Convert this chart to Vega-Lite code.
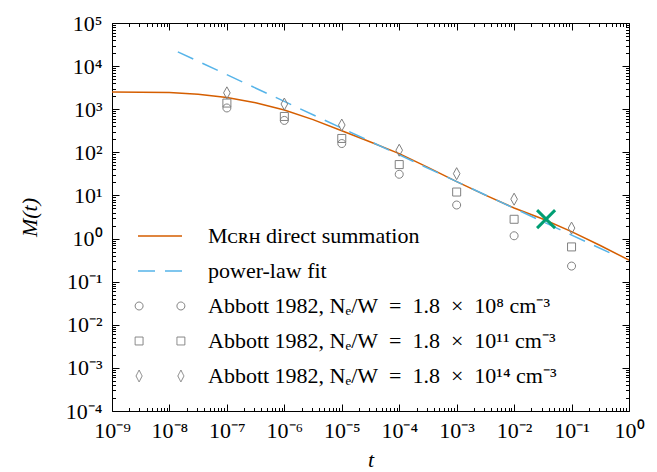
{
  "$schema": "https://vega.github.io/schema/vega-lite/v6.json",
  "width": 517,
  "height": 388,
  "autosize": {"type": "none"},
  "padding": {"left": 112, "top": 23, "right": 28, "bottom": 61},
  "background": "white",
  "config": {
    "font": "Liberation Serif",
    "view": {"stroke": "black", "strokeWidth": 1},
    "axis": {"labelFont": "Liberation Serif", "labelFontSize": 22, "labelColor": "black", "titleFont": "Liberation Serif", "titleFontSize": 22, "titleColor": "black", "titleFontWeight": "normal", "tickColor": "black", "tickWidth": 1, "grid": false, "domain": false},
    "legend": {"labelFont": "Liberation Serif", "labelFontSize": 22, "labelColor": "black", "labelLimit": 1000}
  },
  "datasets": {
    "curve": [
      {"t": 1e-9, "M": 2512, "series": "Mᴄʀʜ direct summation"},
      {"t": 3.16e-9, "M": 2483, "series": "Mᴄʀʜ direct summation"},
      {"t": 1e-8, "M": 2427, "series": "Mᴄʀʜ direct summation"},
      {"t": 3.16e-8, "M": 2239, "series": "Mᴄʀʜ direct summation"},
      {"t": 1e-7, "M": 1862, "series": "Mᴄʀʜ direct summation"},
      {"t": 3.16e-7, "M": 1413, "series": "Mᴄʀʜ direct summation"},
      {"t": 1e-6, "M": 955, "series": "Mᴄʀʜ direct summation"},
      {"t": 3.16e-6, "M": 575, "series": "Mᴄʀʜ direct summation"},
      {"t": 1e-5, "M": 316, "series": "Mᴄʀʜ direct summation"},
      {"t": 3.16e-5, "M": 174, "series": "Mᴄʀʜ direct summation"},
      {"t": 1e-4, "M": 93.3, "series": "Mᴄʀʜ direct summation"},
      {"t": 3.16e-4, "M": 44.7, "series": "Mᴄʀʜ direct summation"},
      {"t": 1e-3, "M": 20.9, "series": "Mᴄʀʜ direct summation"},
      {"t": 3.16e-3, "M": 10.2, "series": "Mᴄʀʜ direct summation"},
      {"t": 1e-2, "M": 5.1, "series": "Mᴄʀʜ direct summation"},
      {"t": 3.16e-2, "M": 2.85, "series": "Mᴄʀʜ direct summation"},
      {"t": 0.1, "M": 1.45, "series": "Mᴄʀʜ direct summation"},
      {"t": 0.316, "M": 0.69, "series": "Mᴄʀʜ direct summation"},
      {"t": 1, "M": 0.316, "series": "Mᴄʀʜ direct summation"}
    ],
    "fit": [
      {"t": 1.4e-8, "M": 21380, "series": "power-law fit"},
      {"t": 0.6, "M": 0.398, "series": "power-law fit"}
    ],
    "abbott": [
      {"t": 1e-7, "M": 1070, "series": "Abbott 1982, Nₑ/W = 1.8 × 10⁸ cm⁻³"},
      {"t": 1e-6, "M": 550, "series": "Abbott 1982, Nₑ/W = 1.8 × 10⁸ cm⁻³"},
      {"t": 1e-5, "M": 160, "series": "Abbott 1982, Nₑ/W = 1.8 × 10⁸ cm⁻³"},
      {"t": 1e-4, "M": 31, "series": "Abbott 1982, Nₑ/W = 1.8 × 10⁸ cm⁻³"},
      {"t": 1e-3, "M": 6.0, "series": "Abbott 1982, Nₑ/W = 1.8 × 10⁸ cm⁻³"},
      {"t": 1e-2, "M": 1.16, "series": "Abbott 1982, Nₑ/W = 1.8 × 10⁸ cm⁻³"},
      {"t": 0.1, "M": 0.23, "series": "Abbott 1982, Nₑ/W = 1.8 × 10⁸ cm⁻³"},
      {"t": 1e-7, "M": 1390, "series": "Abbott 1982, Nₑ/W = 1.8 × 10¹¹ cm⁻³"},
      {"t": 1e-6, "M": 680, "series": "Abbott 1982, Nₑ/W = 1.8 × 10¹¹ cm⁻³"},
      {"t": 1e-5, "M": 210, "series": "Abbott 1982, Nₑ/W = 1.8 × 10¹¹ cm⁻³"},
      {"t": 1e-4, "M": 52, "series": "Abbott 1982, Nₑ/W = 1.8 × 10¹¹ cm⁻³"},
      {"t": 1e-3, "M": 12, "series": "Abbott 1982, Nₑ/W = 1.8 × 10¹¹ cm⁻³"},
      {"t": 1e-2, "M": 2.8, "series": "Abbott 1982, Nₑ/W = 1.8 × 10¹¹ cm⁻³"},
      {"t": 0.1, "M": 0.64, "series": "Abbott 1982, Nₑ/W = 1.8 × 10¹¹ cm⁻³"},
      {"t": 1e-7, "M": 2400, "series": "Abbott 1982, Nₑ/W = 1.8 × 10¹⁴ cm⁻³"},
      {"t": 1e-6, "M": 1320, "series": "Abbott 1982, Nₑ/W = 1.8 × 10¹⁴ cm⁻³"},
      {"t": 1e-5, "M": 430, "series": "Abbott 1982, Nₑ/W = 1.8 × 10¹⁴ cm⁻³"},
      {"t": 1e-4, "M": 112, "series": "Abbott 1982, Nₑ/W = 1.8 × 10¹⁴ cm⁻³"},
      {"t": 1e-3, "M": 32, "series": "Abbott 1982, Nₑ/W = 1.8 × 10¹⁴ cm⁻³"},
      {"t": 1e-2, "M": 8.2, "series": "Abbott 1982, Nₑ/W = 1.8 × 10¹⁴ cm⁻³"},
      {"t": 0.1, "M": 1.75, "series": "Abbott 1982, Nₑ/W = 1.8 × 10¹⁴ cm⁻³"}
    ],
    "cross": [{"t": 0.036, "M": 2.83}]
  },
  "layer": [
    {
      "data": {"name": "curve"},
      "mark": {"type": "line", "strokeWidth": 1.5, "clip": true},
      "encoding": {
        "x": {"field": "t", "type": "quantitative",
          "scale": {"type": "log", "domain": [1e-9, 1], "nice": false},
          "axis": {"orient": "bottom", "title": "t", "titleFontStyle": "italic", "titlePadding": 5,
            "values": [1e-9,2e-9,3e-9,4e-9,5e-9,6e-9,7e-9,8e-9,9e-9,1e-8,2e-8,3e-8,4e-8,5e-8,6e-8,7e-8,8e-8,9e-8,1e-7,2e-7,3e-7,4e-7,5e-7,6e-7,7e-7,8e-7,9e-7,1e-6,2e-6,3e-6,4e-6,5e-6,6e-6,7e-6,8e-6,9e-6,1e-5,2e-5,3e-5,4e-5,5e-5,6e-5,7e-5,8e-5,9e-5,1e-4,2e-4,3e-4,4e-4,5e-4,6e-4,7e-4,8e-4,9e-4,1e-3,2e-3,3e-3,4e-3,5e-3,6e-3,7e-3,8e-3,9e-3,1e-2,2e-2,3e-2,4e-2,5e-2,6e-2,7e-2,8e-2,9e-2,0.1,0.2,0.3,0.4,0.5,0.6,0.7,0.8,0.9,1],
            "labelExpr": "abs(log(datum.value)/LN10 - round(log(datum.value)/LN10)) < 0.000001 ? '10' + ['⁻⁹','⁻⁸','⁻⁷','⁻⁶','⁻⁵','⁻⁴','⁻³','⁻²','⁻¹','⁰','¹','²','³','⁴','⁵'][round(log(datum.value)/LN10)+9] : ''",
            "labelOverlap": false, "labelFlush": false, "labelBound": false, "labelPadding": 16,
            "tickSize": {"condition": {"test": "abs(log(datum.value)/LN10 - round(log(datum.value)/LN10)) < 0.000001", "value": -7}, "value": -3.5}}},
        "y": {"field": "M", "type": "quantitative",
          "scale": {"type": "log", "domain": [1e-4, 1e5], "nice": false},
          "axis": {"orient": "left", "title": "M(t)", "titleFontStyle": "italic", "titlePadding": 24,
            "values": [1e-4,2e-4,3e-4,4e-4,5e-4,6e-4,7e-4,8e-4,9e-4,1e-3,2e-3,3e-3,4e-3,5e-3,6e-3,7e-3,8e-3,9e-3,1e-2,2e-2,3e-2,4e-2,5e-2,6e-2,7e-2,8e-2,9e-2,0.1,0.2,0.3,0.4,0.5,0.6,0.7,0.8,0.9,1,2,3,4,5,6,7,8,9,10,20,30,40,50,60,70,80,90,100,200,300,400,500,600,700,800,900,1000,2000,3000,4000,5000,6000,7000,8000,9000,10000,20000,30000,40000,50000,60000,70000,80000,90000,100000],
            "labelExpr": "abs(log(datum.value)/LN10 - round(log(datum.value)/LN10)) < 0.000001 ? '10' + ['⁻⁹','⁻⁸','⁻⁷','⁻⁶','⁻⁵','⁻⁴','⁻³','⁻²','⁻¹','⁰','¹','²','³','⁴','⁵'][round(log(datum.value)/LN10)+9] : ''",
            "labelOverlap": false, "labelFlush": false, "labelBound": false, "labelPadding": 17,
            "tickSize": {"condition": {"test": "abs(log(datum.value)/LN10 - round(log(datum.value)/LN10)) < 0.000001", "value": -7}, "value": -3.5}}},
        "color": {"field": "series", "type": "nominal",
          "scale": {"domain": ["Mᴄʀʜ direct summation", "power-law fit", "Abbott 1982, Nₑ/W = 1.8 × 10⁸ cm⁻³", "Abbott 1982, Nₑ/W = 1.8 × 10¹¹ cm⁻³", "Abbott 1982, Nₑ/W = 1.8 × 10¹⁴ cm⁻³"],
            "range": ["#D55E00", "#56B4E9", "#808080", "#808080", "#808080"]},
          "legend": {"title": null, "orient": "none", "legendX": 37, "legendY": 202, "padding": 0, "rowPadding": 13,
            "symbolSize": 1936, "labelOffset": 37, "symbolType": "M-1,0H1", "labelLimit": 1000,
            "labelExpr": "replace(replace(datum.label, ' = ', '\u2002=\u2002'), ' × ', '\u2002×\u2002')",
            "encode": {"symbols": {"update": {
              "shape": {"signal": "datum.value === 'Mᴄʀʜ direct summation' || datum.value === 'power-law fit' ? 'M-1,0H1' : indexof(datum.value, '10⁸') >= 0 ? 'M-0.77,0A0.18,0.18 0 1,1 -1.13,0A0.18,0.18 0 1,1 -0.77,0ZM1.13,0A0.18,0.18 0 1,1 0.77,0A0.18,0.18 0 1,1 1.13,0Z' : indexof(datum.value, '10¹¹') >= 0 ? 'M-1.13,-0.18H-0.77V0.18H-1.13ZM0.77,-0.18H1.13V0.18H0.77Z' : 'M-0.95,-0.27L-0.81,0L-0.95,0.27L-1.09,0ZM0.95,-0.27L1.09,0L0.95,0.27L0.81,0Z'"},
              "strokeDash": {"signal": "datum.value === 'power-law fit' ? [17, 10] : [1, 0]"},
              "strokeWidth": {"signal": "datum.value === 'Mᴄʀʜ direct summation' || datum.value === 'power-law fit' ? 1.5 : 1"},
              "fill": {"value": "transparent"},
              "size": {"value": 1936},
              "opacity": {"value": 1}
            }}}}}
      }
    },
    {
      "data": {"name": "fit"},
      "mark": {"type": "line", "strokeWidth": 1.5, "strokeDash": [17, 10], "clip": true},
      "encoding": {
        "x": {"field": "t", "type": "quantitative", "axis": null},
        "y": {"field": "M", "type": "quantitative", "axis": null},
        "color": {"field": "series", "type": "nominal"}
      }
    },
    {
      "data": {"name": "abbott"},
      "mark": {"type": "point", "filled": false, "strokeWidth": 1, "size": 144, "opacity": 1},
      "encoding": {
        "x": {"field": "t", "type": "quantitative", "axis": null},
        "y": {"field": "M", "type": "quantitative", "axis": null},
        "color": {"field": "series", "type": "nominal"},
        "shape": {"field": "series", "type": "nominal", "legend": null,
          "scale": {"domain": ["Abbott 1982, Nₑ/W = 1.8 × 10⁸ cm⁻³", "Abbott 1982, Nₑ/W = 1.8 × 10¹¹ cm⁻³", "Abbott 1982, Nₑ/W = 1.8 × 10¹⁴ cm⁻³"],
            "range": ["M0.667,0A0.667,0.667 0 1,1 -0.667,0A0.667,0.667 0 1,1 0.667,0Z", "M-0.667,-0.667H0.667V0.667H-0.667Z", "M0,-1L0.55,0L0,1L-0.55,0Z"]}}
      }
    },
    {
      "data": {"name": "cross"},
      "mark": {"type": "point", "shape": "M-1,-1L1,1M-1,1L1,-1", "size": 324, "stroke": "#009E73", "strokeWidth": 3, "filled": false, "opacity": 1},
      "encoding": {
        "x": {"field": "t", "type": "quantitative",
          "axis": {"orient": "top", "title": null, "labels": false,
            "values": [1e-9,2e-9,3e-9,4e-9,5e-9,6e-9,7e-9,8e-9,9e-9,1e-8,2e-8,3e-8,4e-8,5e-8,6e-8,7e-8,8e-8,9e-8,1e-7,2e-7,3e-7,4e-7,5e-7,6e-7,7e-7,8e-7,9e-7,1e-6,2e-6,3e-6,4e-6,5e-6,6e-6,7e-6,8e-6,9e-6,1e-5,2e-5,3e-5,4e-5,5e-5,6e-5,7e-5,8e-5,9e-5,1e-4,2e-4,3e-4,4e-4,5e-4,6e-4,7e-4,8e-4,9e-4,1e-3,2e-3,3e-3,4e-3,5e-3,6e-3,7e-3,8e-3,9e-3,1e-2,2e-2,3e-2,4e-2,5e-2,6e-2,7e-2,8e-2,9e-2,0.1,0.2,0.3,0.4,0.5,0.6,0.7,0.8,0.9,1],
            "tickSize": {"condition": {"test": "abs(log(datum.value)/LN10 - round(log(datum.value)/LN10)) < 0.000001", "value": -7}, "value": -3.5}}},
        "y": {"field": "M", "type": "quantitative",
          "axis": {"orient": "right", "title": null, "labels": false,
            "values": [1e-4,2e-4,3e-4,4e-4,5e-4,6e-4,7e-4,8e-4,9e-4,1e-3,2e-3,3e-3,4e-3,5e-3,6e-3,7e-3,8e-3,9e-3,1e-2,2e-2,3e-2,4e-2,5e-2,6e-2,7e-2,8e-2,9e-2,0.1,0.2,0.3,0.4,0.5,0.6,0.7,0.8,0.9,1,2,3,4,5,6,7,8,9,10,20,30,40,50,60,70,80,90,100,200,300,400,500,600,700,800,900,1000,2000,3000,4000,5000,6000,7000,8000,9000,10000,20000,30000,40000,50000,60000,70000,80000,90000,100000],
            "tickSize": {"condition": {"test": "abs(log(datum.value)/LN10 - round(log(datum.value)/LN10)) < 0.000001", "value": -7}, "value": -3.5}}}
      }
    }
  ],
  "resolve": {"axis": {"x": "independent", "y": "independent"}}
}
